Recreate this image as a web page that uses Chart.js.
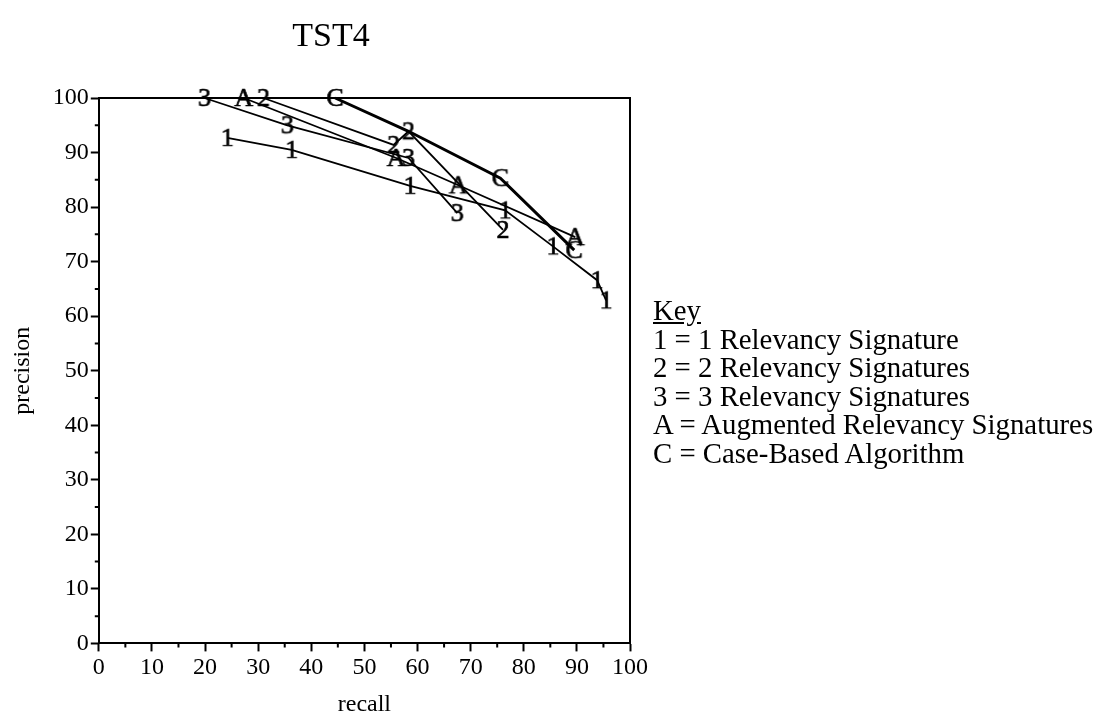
<!DOCTYPE html>
<html lang="en">
<head>
  <meta charset="UTF-8">
  <title>TST4</title>
  <script src="https://cdn.jsdelivr.net/npm/chart.js"></script>
  <style>
    body {
      margin: 0;
      background: #ffffff;
      font-family: 'Liberation Serif', serif;
    }

    #wrap {
      position: relative;
      width: 1108px;
      height: 719px;
    }

    #title {
      position: absolute;
      left: 231px;
      width: 200px;
      top: 14px;
      text-align: center;
      font-size: 34px;
      line-height: 42px;
      color: #000;
    }

    #key {
      position: absolute;
      left: 653px;
      top: 296px;
      font-size: 28.8px;
      line-height: 28.6px;
      color: #000;
    }
  </style>
</head>
<body>

  <div id="wrap">
    <canvas id="tstChart"></canvas>
    <div id="title">TST4</div>
    <div id="key">
      <u>Key</u><br>
      1 = 1 Relevancy Signature<br>
      2 = 2 Relevancy Signatures<br>
      3 = 3 Relevancy Signatures<br>
      A = Augmented Relevancy Signatures<br>
      C = Case-Based Algorithm
    </div>
  </div>

  <script>
    // recall / precision pairs
    const oneRecall = [24.2, 36.3, 58.6, 76.5, 85.5, 93.8, 95.5];
    const onePrecision = [92.7, 90.5, 83.9, 79.4, 72.8, 66.6, 62.9];

    const twoRecall = [31.0, 55.5, 58.3, 76.1];
    const twoPrecision = [100, 91.4, 93.9, 75.8];

    const threeRecall = [19.9, 35.5, 58.3, 67.5];
    const threePrecision = [100, 95.0, 89.0, 78.9];

    const augRecall = [27.3, 56.0, 67.7, 89.7];
    const augPrecision = [100, 89.0, 84.0, 74.5];

    const caseRecall = [44.5, 58.3, 75.6, 89.5];
    const casePrecision = [100, 93.9, 85.3, 72.1];

    const xTicks = [0, 10, 20, 30, 40, 50, 60, 70, 80, 90, 100];
    const yTicks = [0, 10, 20, 30, 40, 50, 60, 70, 80, 90, 100];

    // little canvases with the letter used as the point marker
    function glyph(ch) {
      const c = document.createElement('canvas');
      c.width = 24;
      c.height = 28;
      const g = c.getContext('2d');
      g.font = '26px "Liberation Serif"';
      g.fillStyle = '#000';
      g.strokeStyle = '#000';
      g.lineWidth = 0.7;
      g.textAlign = 'center';
      g.textBaseline = 'middle';
      g.fillText(ch, 12, 15);
      g.strokeText(ch, 12, 15);
      return c;
    }

    function pts(xs, ys) {
      return xs.map((x, i) => ({ x: x, y: ys[i] }));
    }

    function series(label, xs, ys, ch, width, radius) {
      return {
        label: label,
        data: pts(xs, ys),
        showLine: true,
        borderColor: '#000',
        borderWidth: width,
        pointStyle: glyph(ch),
        pointRadius: radius || 4,
        clip: false,
        tension: 0
      };
    }

    const datasets = [
      series('1 Relevancy Signature', oneRecall, onePrecision, '1', 1.8),
      series('2 Relevancy Signatures', twoRecall, twoPrecision, '2', 1.8),
      series('3 Relevancy Signatures', threeRecall, threePrecision, '3', 1.8),
      series('Augmented Relevancy Signatures', augRecall, augPrecision, 'A', 1.8),
      series('Case-Based Algorithm', caseRecall, casePrecision, 'C', 3, [4, 0, 4, 4])
    ];

    // top/right frame and the short minor ticks
    const frame = {
      id: 'frame',
      afterDraw(chart) {
        const { ctx, chartArea: a, scales } = chart;
        ctx.save();
        ctx.strokeStyle = '#000';
        ctx.lineWidth = 2;
        ctx.beginPath();
        ctx.moveTo(a.left, a.top);
        ctx.lineTo(a.right, a.top);
        ctx.lineTo(a.right, a.bottom);
        ctx.stroke();
        for (let v = 5; v < 100; v += 10) {
          const px = scales.x.getPixelForValue(v);
          const py = scales.y.getPixelForValue(v);
          ctx.beginPath();
          ctx.moveTo(px, a.bottom);
          ctx.lineTo(px, a.bottom + 4);
          ctx.moveTo(a.left, py);
          ctx.lineTo(a.left - 4, py);
          ctx.stroke();
        }
        ctx.restore();
      }
    };

    const tickFont = { family: 'Liberation Serif', size: 24 };

    const chart = new Chart(document.getElementById('tstChart'), {
      type: 'scatter',
      data: { datasets: datasets },
      options: {
        responsive: true,
        maintainAspectRatio: false,
        animation: false,
        layout: {
          padding: { left: 8, right: 478, top: 98, bottom: 0 }
        },
        scales: {
          x: {
            type: 'linear',
            min: 0,
            max: 100,
            afterBuildTicks: (s) => { s.ticks = xTicks.map(v => ({ value: v })); },
            grid: { drawOnChartArea: false, tickLength: 8, tickWidth: 2, tickColor: '#000' },
            border: { color: '#000', width: 2 },
            ticks: { color: '#000', font: tickFont, padding: 2, maxRotation: 0 },
            title: { display: true, text: 'recall', color: '#000', font: tickFont, padding: { top: 6, bottom: 0 } }
          },
          y: {
            type: 'linear',
            min: 0,
            max: 100,
            afterBuildTicks: (s) => { s.ticks = yTicks.map(v => ({ value: v })); },
            grid: { drawOnChartArea: false, tickLength: 8, tickWidth: 2, tickColor: '#000' },
            border: { color: '#000', width: 2 },
            ticks: { color: '#000', font: tickFont, padding: 2 },
            title: { display: true, text: 'precision', color: '#000', font: tickFont, padding: { top: 0, bottom: 14 } }
          }
        },
        plugins: {
          legend: { display: false },
          tooltip: { enabled: false },
          title: { display: false }
        }
      },
      plugins: [frame]
    });
  </script>
</body>
</html>
